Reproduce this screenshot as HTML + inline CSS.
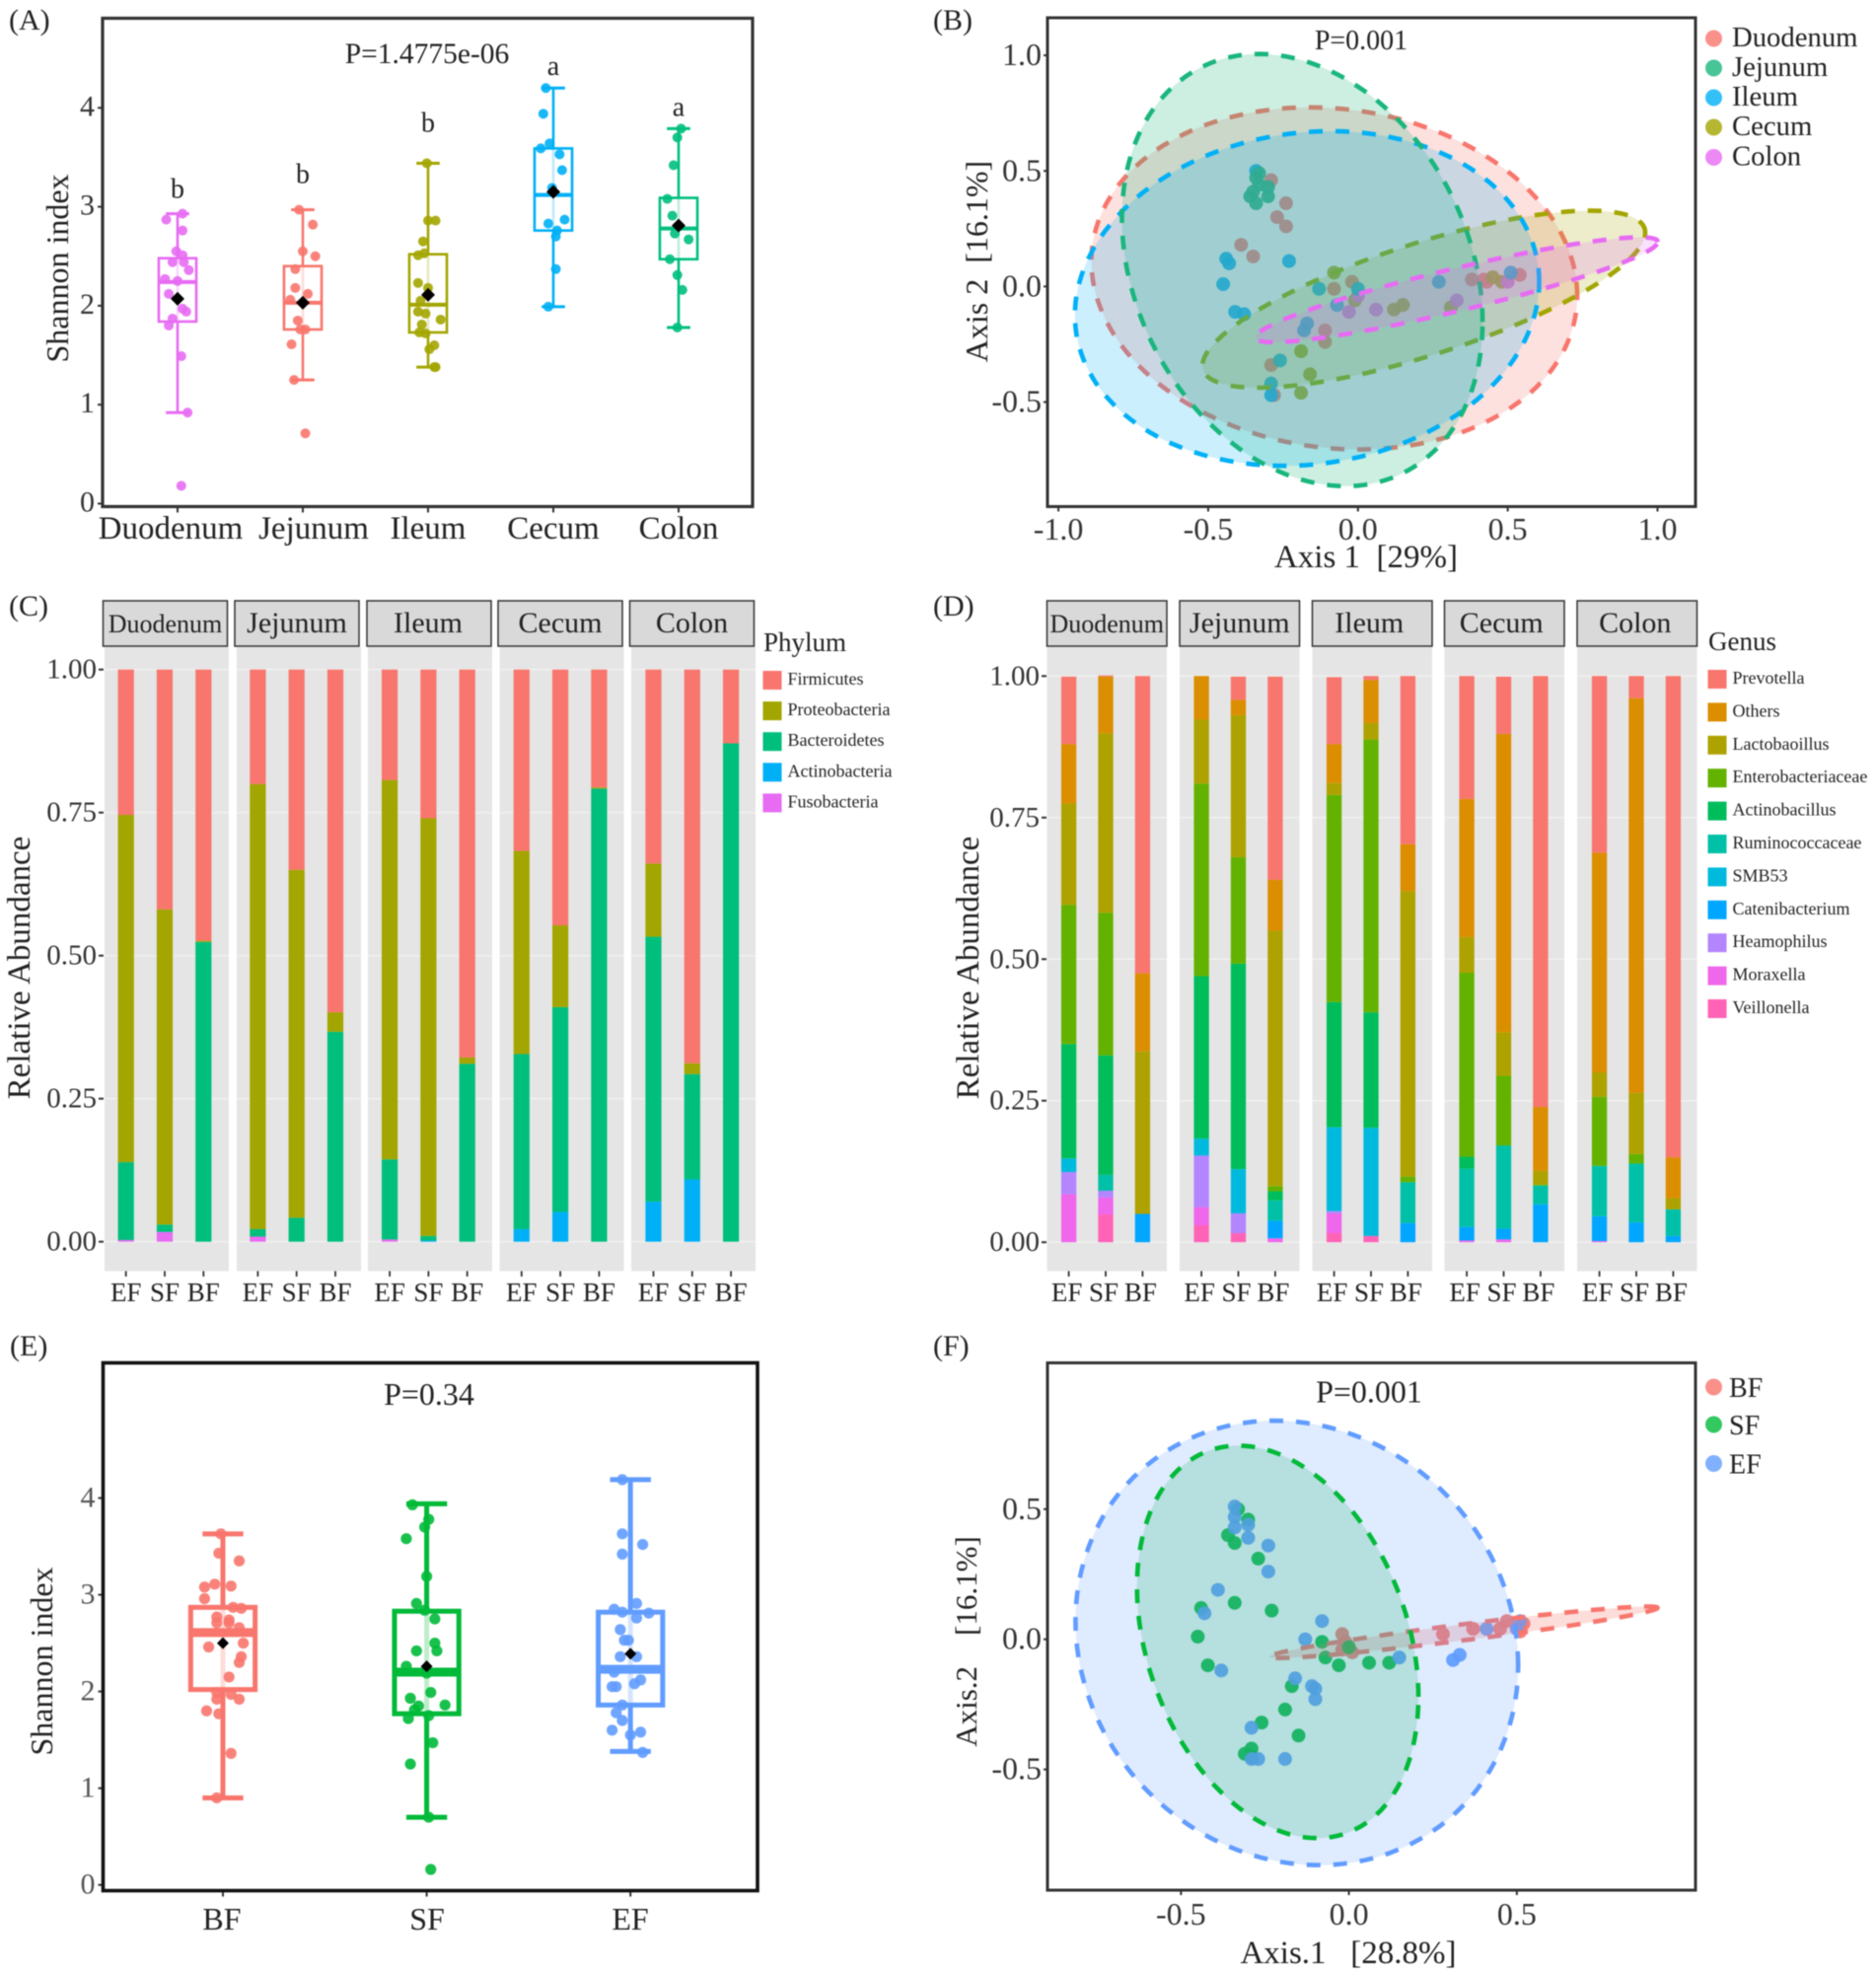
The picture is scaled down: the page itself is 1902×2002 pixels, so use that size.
<!DOCTYPE html>
<html lang="en">
<head>
<meta charset="utf-8">
<title>Gut microbiota diversity and composition figure</title>
<style>
html,body{margin:0;padding:0;background:#fff;}
svg{display:block;filter:blur(0.5px);}
text{font-family:"Liberation Serif",serif;fill:#222;}
</style>
</head>
<body>
<svg id="figure" xmlns="http://www.w3.org/2000/svg" width="1902" height="2002" viewBox="0 0 1902 2002">
<rect width="1902" height="2002" fill="#fff"/>
<text x="9" y="30" font-size="30">(A)</text>
<text x="946" y="30" font-size="30">(B)</text>
<text x="9" y="624" font-size="30">(C)</text>
<text x="946" y="624" font-size="30">(D)</text>
<text x="10" y="1374" font-size="30">(E)</text>
<text x="946" y="1374" font-size="30">(F)</text>

<g id="panelA"></g>
<rect x="104" y="18.5" width="659" height="495" fill="none" stroke="#333" stroke-width="3.2"/>
<text x="433" y="64" font-size="29.5" text-anchor="middle">P=1.4775e-06</text>
<text transform="translate(69 272) rotate(-90)" font-size="32" text-anchor="middle">Shannon index</text>

<g id="panelB"></g>
<rect x="1062" y="18" width="657" height="495.5" fill="none" stroke="#333" stroke-width="3"/>
<text x="1380" y="50" font-size="28" text-anchor="middle">P=0.001</text>
<text x="1385" y="575" font-size="33" text-anchor="middle" xml:space="preserve">Axis 1  [29%]</text>
<text transform="translate(1001 265) rotate(-90)" font-size="32" text-anchor="middle" xml:space="preserve">Axis 2  [16.1%]</text>

<g id="panelC"></g>
<text transform="translate(30 981) rotate(-90)" font-size="33" text-anchor="middle">Relative Abundance</text>
<text x="774" y="660" font-size="27">Phylum</text>

<g id="panelD"></g>
<text transform="translate(992 981) rotate(-90)" font-size="33" text-anchor="middle">Relative Abundance</text>
<text x="1732" y="659" font-size="27">Genus</text>

<g id="panelE"></g>
<rect x="104.5" y="1381.5" width="663.5" height="535" fill="none" stroke="#111" stroke-width="3.6"/>
<text x="435" y="1424" font-size="32" text-anchor="middle">P=0.34</text>
<text transform="translate(53 1684) rotate(-90)" font-size="32" text-anchor="middle">Shannon index</text>

<g id="panelF"></g>
<rect x="1062" y="1381.5" width="657" height="534.5" fill="none" stroke="#333" stroke-width="3"/>
<text x="1388" y="1421.5" font-size="32" text-anchor="middle">P=0.001</text>
<text x="1367" y="1990" font-size="33" text-anchor="middle" xml:space="preserve">Axis.1   [28.8%]</text>
<text transform="translate(990 1664) rotate(-90)" font-size="31" text-anchor="middle" xml:space="preserve">Axis.2    [16.1%]</text>
</svg>

<script>
/* ---------- Panel A data ---------- */
const siteCategories = ['Duodenum','Jejunum','Ileum','Cecum','Colon'];
const siteColors = ['#E76BF3','#F8766D','#A3A500','#00B0F6','#00BF7D'];
const siteQ1 = [1.84,1.76,1.73,2.76,2.47];
const siteMedian = [2.24,2.03,2.01,3.12,2.78];
const siteQ3 = [2.48,2.40,2.52,3.59,3.09];
const siteLow = [0.92,1.25,1.38,1.99,1.78];
const siteHigh = [2.93,2.97,3.44,4.20,3.79];
const siteMean = [2.07,2.03,2.11,3.15,2.81];
const siteLetters = ['b','b','b','a','a'];
const siteLetterValues = [3.09,3.24,3.76,4.33,3.92];
const shannonTicks = [0,1,2,3,4];
const sitePointValues = [
 [2.93,2.87,2.76,2.55,2.51,2.44,2.44,2.36,2.27,2.25,2.12,1.94,1.97,1.87,1.80,1.49,0.92,0.18],
 [2.97,2.82,2.55,2.50,2.37,2.18,2.12,2.06,2.03,1.85,1.76,1.76,1.61,1.25,0.71],
 [3.44,2.86,2.86,2.65,2.53,2.51,2.23,2.18,2.05,1.94,1.92,1.86,1.81,1.73,1.72,1.60,1.56,1.38,1.38],
 [4.20,3.94,3.64,3.59,3.53,3.37,3.19,2.83,2.87,2.76,2.70,2.37,1.99],
 [3.79,3.70,3.42,3.08,2.91,2.73,2.67,2.47,2.31,2.16,1.78]
];
const sitePointJitter = [
 [.04,-.09,.04,-.01,.04,-.04,.05,.09,-.10,0,-.07,.07,.04,-.04,-.07,.03,.08,.03],
 [-.03,.08,0,.10,-.06,-.06,.04,-.10,0,-.04,-.02,.02,-.09,-.07,.02],
 [-.01,0,.06,-.04,-.03,-.08,-.08,0,-.06,-.08,-.02,.10,-.05,-.07,-.02,.05,.01,.06,.05],
 [-.06,-.08,-.03,-.10,.05,.07,-.01,-.04,.09,.03,.02,.02,-.04],
 [.02,-.01,-.04,-.09,-.05,-.03,.08,-.07,-.01,.03,-.01]
];

/* ---------- Panel E data ---------- */
const feedCategories = ['BF','SF','EF'];
const feedColors = ['#F8766D','#00BA38','#619CFF'];
const feedQ1 = [2.02,1.77,1.86];
const feedMedian = [2.61,2.20,2.23];
const feedQ3 = [2.87,2.83,2.82];
const feedLow = [0.90,0.70,1.38];
const feedHigh = [3.63,3.94,4.19];
const feedMean = [2.50,2.26,2.39];
const feedPointValues = [
 [3.63,3.43,3.35,3.08,3.11,3.09,2.96,2.87,2.86,2.77,2.74,2.71,2.71,2.66,2.50,2.46,2.36,2.30,2.15,1.99,1.97,1.92,1.92,1.80,1.77,1.36,0.90],
 [3.93,3.78,3.70,3.58,3.19,2.91,2.84,2.75,2.50,2.42,2.42,2.26,2.19,1.99,1.93,1.86,1.85,1.81,1.72,1.75,1.47,1.25,0.70,0.16],
 [4.19,3.63,3.52,3.42,2.91,2.85,2.82,2.81,2.76,2.64,2.53,2.53,2.36,2.36,2.20,2.12,2.08,2.05,2.05,1.86,1.78,1.70,1.60,1.55,1.58,1.37]
];
const feedPointJitter = [
 [-.01,-.02,.08,-.09,-.04,.04,-.09,.05,.09,-.03,.03,-.03,.03,.08,.10,-.07,.09,.08,.03,-.03,.04,-.03,.08,-.08,-.02,.04,-.03],
 [-.07,.01,-.01,-.10,0,-.05,-.01,.04,.04,-.05,.05,-.10,0,.02,-.08,.09,-.04,-.06,-.09,.01,.03,-.08,.01,.02],
 [-.04,-.04,.06,-.04,.03,-.08,-.04,.09,.03,-.05,-.03,-.01,-.05,.03,-.08,.05,.02,-.09,-.07,-.04,-.07,-.04,-.09,0,.05,.06]
];

/* ---------- Panel C data (order per site: EF, SF, BF) ---------- */
const facetSites = ['Duodenum','Jejunum','Ileum','Cecum','Colon'];
const feedLabels = ['EF','SF','BF'];
const abundanceTicks = [0,0.25,0.5,0.75,1];
const phylumLegendLabels = ['Firmicutes','Proteobacteria','Bacteroidetes','Actinobacteria','Fusobacteria'];
const phylumColors = ['#F8766D','#A3A500','#00BF7D','#00B0F6','#E76BF3'];
const firmicutes = [.254,.419,.474,.20,.35,.599,.193,.26,.678,.317,.447,.206,.339,.688,.129];
const proteobacteria = [.607,.551,.002,.778,.608,.034,.663,.73,.011,.355,.143,.002,.128,.019,0];
const bacteroidetes = [.136,.013,.524,.013,.042,.367,.14,.008,.311,.306,.358,.792,.463,.184,.871];
const actinobacteria = [0,0,0,0,0,0,0,.002,0,.022,.052,0,.07,.109,0];
const fusobacteria = [.003,.017,0,.009,0,0,.004,0,0,0,0,0,0,0,0];

/* ---------- Panel D data ---------- */
const genusLegendLabels = ['Prevotella','Others','Lactobaoillus','Enterobacteriaceae','Actinobacillus','Ruminococcaceae','SMB53','Catenibacterium','Heamophilus','Moraxella','Veillonella'];
const genusColors = ['#F8766D','#DB8E00','#AEA200','#64B200','#00BD5C','#00C1A7','#00BADE','#00A6FF','#B385FF','#EF67EB','#FF63B6'];
const prevotella = [.119,.002,.525,0,.041,.359,.118,.007,.297,.217,.101,.761,.312,.039,.85];
const othersGenus = [.105,.1,.138,.077,.027,.09,.069,.076,.083,.244,.527,.113,.388,.697,.072];
const lactobacillus = [.179,.317,.287,.113,.251,.451,.021,.029,.504,.063,.077,.024,.043,.108,.02];
const enterobacteriaceae = [.246,.252,0,.34,.188,.009,.366,.482,.01,.325,.123,.002,.122,.017,0];
const actinobacillus = [.202,.211,0,.287,.363,.016,.221,.204,0,.021,0,0,0,0,0];
const ruminococcaceae = [0,.028,0,0,0,.036,0,0,.072,.103,.147,.033,.089,.104,.047];
const smb53 = [.024,0,0,.03,.078,0,.148,.191,0,0,0,0,0,0,0];
const catenibacterium = [0,0,.05,0,0,.031,0,0,.034,.024,.019,.067,.044,.035,.011];
const heamophilus = [.039,.012,0,.091,.035,0,.004,0,0,0,0,0,0,0,0];
const moraxella = [.085,.03,0,.032,0,.007,.035,0,0,.003,.005,0,.002,0,0];
const veillonella = [0,.049,0,.03,.016,0,.016,.011,0,0,0,0,0,0,0];

/* ---------- Panel B data (ellipses: Duodenum, Jejunum, Ileum, Cecum, Colon) ---------- */
const pcoaSites = ['Duodenum','Jejunum','Ileum','Cecum','Colon'];
const pcoaSiteColors = ['#F8766D','#19B67D','#00B0F6','#A3A500','#E76BF3'];
const pcoaBTicksX = [-1,-0.5,0,0.5,1];
const pcoaBTicksY = [-0.5,0,0.5,1];
const siteEllipseCenterX = [-.079,-.186,-.17,.22,.329];
const siteEllipseCenterY = [.035,.071,-.052,-.055,-.014];
const siteEllipseHalfWidth = [.811,.602,.775,.739,.672];
const siteEllipseHalfHeight = [.74,.935,.724,.383,.227];
const siteEllipseCorrelation = [-.10,-.24,.10,.75,.91];
const duodenumPointsX = [-.29,-.24,-.27,-.24,-.39,-.35,-.02,-.08,-.11,-.11,-.29,-.28,.38,.42,.43,.54];
const duodenumPointsY = [.46,.36,.30,.26,.18,.13,.02,-.01,-.19,-.24,-.34,-.47,.03,.03,.02,.05];
const jejunumPointsX = [-.34,-.33,-.30,-.35,-.36,-.30,-.34,-.33];
const jejunumPointsY = [.47,.44,.43,.41,.39,.39,.36,.49];
const ileumPointsX = [-.34,-.44,-.43,-.23,-.45,-.41,-.38,-.13,0,-.07,.27,.51,-.18,-.17,-.26,-.29,-.29];
const ileumPointsY = [.50,.12,.10,.11,.01,-.11,-.12,-.01,-.01,-.08,.02,.06,-.19,-.16,-.32,-.42,-.47];
const cecumPointsX = [-.08,-.01,.12,.15,.31,.45,.48,-.19,-.16,-.19];
const cecumPointsY = [.06,-.06,-.10,-.08,-.09,.04,.02,-.28,-.38,-.46];
const colonPointsX = [-.03,.06,.33,0,.50];
const colonPointsY = [-.11,-.10,-.06,-.04,.02];

/* ---------- Panel F data (ellipses: BF, SF, EF) ---------- */
const pcoaFeeds = ['BF','SF','EF'];
const pcoaFeedColors = ['#F8766D','#00BA38','#619CFF'];
const pcoaFTicksX = [-0.5,0,0.5];
const pcoaFTicksY = [-0.5,0,0.5];
const feedEllipseCenterX = [.341,-.212,-.155];
const feedEllipseCenterY = [.027,-.010,-.014];
const feedEllipseHalfWidth = [.578,.419,.659];
const feedEllipseHalfHeight = [.099,.754,.854];
const feedEllipseCorrelation = [.95,-.28,-.10];
const sfPointsX = [-.33,-.30,-.36,-.34,-.27,-.44,-.34,-.23,-.45,-.08,0,-.07,-.42,-.03,.06,.12,-.17,-.19,-.26,-.15,-.29,-.31,-.29];
const sfPointsY = [.50,.46,.40,.37,.31,.12,.14,.11,.01,-.01,-.03,-.07,-.10,-.10,-.09,-.09,-.18,-.27,-.32,-.37,-.42,-.44,-.45];
const efPointsX = [-.34,-.34,-.30,-.34,-.30,-.24,-.24,-.39,-.43,-.08,-.13,-.38,.15,-.16,-.11,-.10,-.10,-.29,-.19,-.27,-.29,.31,.33,.41,.50,.51];
const efPointsY = [.51,.47,.44,.43,.39,.36,.26,.19,.10,.07,0,-.12,-.07,-.15,-.18,-.19,-.23,-.34,-.46,-.46,-.46,-.08,-.06,.04,.04,.07];
const bfPointsX = [-.02,-.01,.01,-.02,.28,.37,.45,.47,.52,.51];
const bfPointsY = [.02,-.01,-.05,-.04,.02,.04,.04,.07,.06,.03];

/* ---------- helpers ---------- */
const SVGNS = 'http://www.w3.org/2000/svg';
function mk(parent, tag, attrs, text) {
  const node = document.createElementNS(SVGNS, tag);
  for (const k in attrs) node.setAttribute(k, attrs[k]);
  if (text !== undefined) node.textContent = text;
  parent.appendChild(node);
  return node;
}
function ellipsePath(cx, cy, a, b, r, sx, sy) {
  const q = Math.sqrt(1 - r * r);
  let d = '';
  for (let k = 0; k < 160; k++) {
    const t = k / 160 * 2 * Math.PI;
    const px = sx(cx + a * Math.cos(t));
    const py = sy(cy + b * (r * Math.cos(t) + q * Math.sin(t)));
    d += (k ? 'L' : 'M') + px.toFixed(1) + ' ' + py.toFixed(1);
  }
  return d + 'Z';
}

/* ---------- box plots ---------- */
function drawBoxes(host, o) {
  o.cats.forEach((cat, i) => {
    const g = mk(host, 'g', {});
    
    
    const col = o.colors[i], cx = o.x(i);
    const bw = o.x(i + o.boxHalf) - cx, cw = o.x(i + o.capHalf) - cx;
    const low = mk(g, 'line', {x1: cx, x2: cx, y1: o.y(o.low[i]), y2: o.y(o.q1[i]), stroke: col, 'stroke-width': o.sw});
    
    
    const high = mk(g, 'line', {x1: cx, x2: cx, y1: o.y(o.q3[i]), y2: o.y(o.high[i]), stroke: col, 'stroke-width': o.sw});
    
    
    const pale = mk(g, 'line', {x1: cx, x2: cx, y1: o.y(o.q1[i]), y2: o.y(o.q3[i]), stroke: col, 'stroke-width': o.sw, opacity: .25});
    
    
    [o.low[i], o.high[i]].forEach(v => {
      const cap = mk(g, 'line', {x1: cx - cw, x2: cx + cw, y1: o.y(v), y2: o.y(v), stroke: col, 'stroke-width': o.capW});
      
      
    });
    const box = mk(g, 'rect', {x: cx - bw, width: 2 * bw, y: o.y(o.q3[i]), height: o.y(o.q1[i]) - o.y(o.q3[i]), fill: 'none', stroke: col, 'stroke-width': o.sw});
    
    
    const med = mk(g, 'line', {x1: cx - bw, x2: cx + bw, y1: o.y(o.median[i]), y2: o.y(o.median[i]), stroke: col, 'stroke-width': o.medW});
    
    
    o.values[i].forEach((v, k) => {
      const c = mk(g, 'circle', {cx: o.x(i + o.jitter[i][k]), cy: o.y(v), r: o.r, fill: col, 'fill-opacity': .9});
      
      
    });
    const mx = cx, my = o.y(o.mean[i]), s = o.d;
    const dia = mk(g, 'polygon', {points: [mx - s, my, mx, my - s, mx + s, my, mx, my + s].join(' '), fill: '#000'});
    
    
    const tk = mk(host, 'line', {x1: cx, x2: cx, y1: o.axisY, y2: o.axisY + 6, stroke: '#333', 'stroke-width': 2});
    
    
    const lb = mk(host, 'text', {x: o.labelX[i], y: o.labelY, 'font-size': o.labelSize, 'text-anchor': 'middle'}, cat);
    
    
  });
  shannonTicks.forEach(t => {
    const tk = mk(host, 'line', {x1: o.axisX - 5, x2: o.axisX, y1: o.y(t), y2: o.y(t), stroke: '#333', 'stroke-width': 2});
    
    
    const lb = mk(host, 'text', {x: o.axisX - 8, y: o.y(t) + o.tickDy, 'font-size': 30, 'text-anchor': 'end', style: 'fill:' + o.tickColor}, String(t));
    
    
  });
}

const xA = c => 180 + 127 * c;
const yA = v => 510.5 - 100.3 * v;
const panelA = document.getElementById('panelA');
drawBoxes(panelA, {cats: siteCategories, colors: siteColors, q1: siteQ1, median: siteMedian, q3: siteQ3, low: siteLow, high: siteHigh, mean: siteMean,
  values: sitePointValues, jitter: sitePointJitter, x: xA, y: yA, boxHalf: .15, capHalf: .093, sw: 2.6, capW: 3, medW: 4, r: 5, d: 7,
  axisY: 513.5, axisX: 104, labelX: [173, 318, 434, 561, 688], labelY: 546, labelSize: 33, tickColor: '#333', tickDy: 8});
siteLetters.forEach((s, i) => {
  const t = mk(panelA, 'text', {x: xA(i), y: yA(siteLetterValues[i]), 'font-size': 28, 'text-anchor': 'middle'}, s);
  
  
});

const xE = c => 226 + 206.6 * c;
const yE = v => 1910.7 - 98.04 * v;
drawBoxes(document.getElementById('panelE'), {cats: feedCategories, colors: feedColors, q1: feedQ1, median: feedMedian, q3: feedQ3, low: feedLow, high: feedHigh, mean: feedMean,
  values: feedPointValues, jitter: feedPointJitter, x: xE, y: yE, boxHalf: .158, capHalf: .10, sw: 5, capW: 5, medW: 9, r: 5.6, d: 6,
  axisY: 1916.5, axisX: 104.5, labelX: [225, 433, 639], labelY: 1956, labelSize: 32, tickColor: '#555', tickDy: 9});

/* ---------- stacked bars ---------- */
function drawStacks(host, o) {
  facetSites.forEach((site, f) => {
    const g = mk(host, 'g', {});
    
    
    const px = o.panelX[f];
    const bg = mk(g, 'rect', {x: px, y: 656, width: o.panelW, height: 632.5, fill: '#E5E5E5'});
    
    
    abundanceTicks.forEach(t => {
      const gl = mk(g, 'line', {x1: px, x2: px + o.panelW, y1: o.y(t), y2: o.y(t), stroke: '#fff', 'stroke-width': 1.2, opacity: .55});
      
      
    });
    const strip = mk(g, 'rect', {x: o.stripX[f], y: 609, width: o.stripW, height: 46, fill: '#D9D9D9', stroke: '#333', 'stroke-width': 1.5});
    
    
    const st = mk(g, 'text', {x: o.stripX[f] + o.stripW / 2 + o.stripDx[f], y: 641, 'font-size': site === 'Duodenum' ? 26 : 30, 'text-anchor': 'middle'}, site);
    
    
    feedLabels.forEach((lab, b) => {
      const cx = o.barX(f, b);
      let cum = 0;
      for (let s = o.series.length - 1; s >= 0; s--) {
        const val = o.series[s][f * 3 + b];
        if (val <= 0) continue;
        const top = cum + val;
        const r = mk(g, 'rect', {x: cx - o.barW / 2, width: o.barW, y: o.y(top), height: o.y(cum) - o.y(top), fill: o.colors[s]});
        
        
        cum = top;
      }
      const tk = mk(g, 'line', {x1: cx, x2: cx, y1: 1288.5, y2: 1294, stroke: '#333', 'stroke-width': 1.8});
      
      
      const tl = mk(g, 'text', {x: cx + o.labelDx, y: 1319, 'font-size': 27, 'text-anchor': 'middle'}, lab);
      
      
    });
  });
  abundanceTicks.forEach(t => {
    const tk = mk(host, 'line', {x1: o.axisX - 5, x2: o.axisX, y1: o.y(t), y2: o.y(t), stroke: '#333', 'stroke-width': 2});
    
    
    const lb = mk(host, 'text', {x: o.axisX - 7, y: o.y(t) + 9, 'font-size': 29, 'text-anchor': 'end', style: 'fill:#333'}, t.toFixed(2));
    
    
  });
  o.legend.forEach((label, i) => {
    const yy = o.legendY + i * o.legendStep;
    const sw = mk(host, 'rect', {x: o.legendX, y: yy, width: 19, height: 19, fill: o.colors[i]});
    
    
    const tx = mk(host, 'text', {x: o.legendX + 25, y: yy + 14, 'font-size': 18}, label);
    
    
  });
}

drawStacks(document.getElementById('panelC'), {
  series: [firmicutes, proteobacteria, bacteroidetes, actinobacteria, fusobacteria],
  colors: phylumColors, legend: phylumLegendLabels,
  y: v => 1258.7 - 580 * v,
  barX: (f, b) => 127.7 + 133.7 * f + 39.3 * b, barW: 16.2,
  panelX: [106, 240, 373, 506.6, 640], panelW: 126,
  stripX: [104.5, 238, 372, 505, 638.5], stripW: 126, stripDx: [0, 0, -1, 0, 0], labelDx: 0,
  axisX: 105, legendX: 773.5, legendY: 680, legendStep: 31.1
});
drawStacks(document.getElementById('panelD'), {
  series: [prevotella, othersGenus, lactobacillus, enterobacteriaceae, actinobacillus, ruminococcaceae, smb53, catenibacterium, heamophilus, moraxella, veillonella],
  colors: genusColors, legend: genusLegendLabels,
  y: v => 1259.2 - 573.9 * v,
  barX: (f, b) => 1083.6 + 134.5 * f + 37.4 * b, barW: 15.3,
  panelX: [1061.5, 1196, 1330.5, 1464.5, 1599], panelW: 121.5,
  stripX: [1061.5, 1196, 1330.5, 1464.5, 1599], stripW: 121.5, stripDx: [0, 0, -3, -3, -2], labelDx: -2,
  axisX: 1061, legendX: 1731.5, legendY: 679, legendStep: 33.4
});

/* ---------- ordination panels ---------- */
function drawEllipse(host, d, col, fillOp, part, name) {
  if (part !== 'stroke') {
    const f = mk(host, 'path', {d: d, fill: col, 'fill-opacity': fillOp, stroke: 'none'});
    
    
  }
  if (part !== 'fill') {
    const s = mk(host, 'path', {d: d, fill: 'none', stroke: col, 'stroke-width': 4.6, 'stroke-dasharray': '14 13'});
    
    
  }
}
function drawPoints(host, xs, ys, sx, sy, col, name, r) {
  xs.forEach((x, i) => {
    const c = mk(host, 'circle', {cx: sx(x), cy: sy(ys[i]), r: r, fill: col, 'fill-opacity': .92});
    
    
  });
}
function drawAxes(host, tx, ty, sx, sy, axisX, axisY, labelYPos, size) {
  tx.forEach(t => {
    const k = mk(host, 'line', {x1: sx(t), x2: sx(t), y1: axisY, y2: axisY + 5, stroke: '#333', 'stroke-width': 2});
    
    
    const l = mk(host, 'text', {x: sx(t), y: labelYPos, 'font-size': size, 'text-anchor': 'middle', style: 'fill:#333'}, t.toFixed(1));
    
    
  });
  ty.forEach(t => {
    const k = mk(host, 'line', {x1: axisX - 4, x2: axisX, y1: sy(t), y2: sy(t), stroke: '#333', 'stroke-width': 2});
    
    
    const l = mk(host, 'text', {x: axisX - 6, y: sy(t) + 10, 'font-size': size, 'text-anchor': 'end', style: 'fill:#333'}, t.toFixed(1));
    
    
  });
}
function drawDotLegend(host, labels, colors, ys, textX, size, dy) {
  labels.forEach((label, i) => {
    const c = mk(host, 'circle', {cx: 1737.5, cy: ys[i], r: 8.5, fill: colors[i], 'fill-opacity': .8});
    
    
    const t = mk(host, 'text', {x: textX, y: ys[i] + dy, 'font-size': size}, label);
    
    
  });
}

const xB = v => 1376.8 + 303.7 * v;
const yB = v => 290.4 - 234.3 * v;
const panelB = document.getElementById('panelB');
const [cD, cJ, cI, cC, cO] = pcoaSiteColors;
const siteEllipsePaths = siteEllipseCenterX.map((cx, i) => ellipsePath(cx, siteEllipseCenterY[i], siteEllipseHalfWidth[i], siteEllipseHalfHeight[i], siteEllipseCorrelation[i], xB, yB));
drawPoints(panelB, duodenumPointsX, duodenumPointsY, xB, yB, cD, 'duodenum', 7);
drawPoints(panelB, cecumPointsX, cecumPointsY, xB, yB, cC, 'cecum', 7);
drawPoints(panelB, colonPointsX, colonPointsY, xB, yB, cO, 'colon', 7);
drawPoints(panelB, ileumPointsX, ileumPointsY, xB, yB, cI, 'ileum', 7);
drawPoints(panelB, jejunumPointsX, jejunumPointsY, xB, yB, cJ, 'jejunum', 7);
drawEllipse(panelB, siteEllipsePaths[0], cD, .22, 'both', 'duodenum');
drawEllipse(panelB, siteEllipsePaths[3], cC, .2, 'both', 'cecum');
drawEllipse(panelB, siteEllipsePaths[1], cJ, .22, 'fill', 'jejunum');
drawEllipse(panelB, siteEllipsePaths[2], cI, .2, 'both', 'ileum');
drawEllipse(panelB, siteEllipsePaths[1], cJ, .22, 'stroke', 'jejunum');
drawEllipse(panelB, siteEllipsePaths[4], cO, .2, 'both', 'colon');
drawAxes(panelB, pcoaBTicksX, pcoaBTicksY, xB, yB, 1062, 513.5, 547, 32);
drawDotLegend(panelB, pcoaSites, pcoaSiteColors, [39, 69, 99, 129, 159.5], 1756, 28.7, 8);

const xF = v => 1367.6 + 340.5 * v;
const yF = v => 1661.7 - 263.8 * v;
const panelF = document.getElementById('panelF');
const [cB, cS, cE] = pcoaFeedColors;
const feedEllipsePaths = feedEllipseCenterX.map((cx, i) => ellipsePath(cx, feedEllipseCenterY[i], feedEllipseHalfWidth[i], feedEllipseHalfHeight[i], feedEllipseCorrelation[i], xF, yF));
drawPoints(panelF, bfPointsX, bfPointsY, xF, yF, cB, 'bf', 7);
drawPoints(panelF, sfPointsX, sfPointsY, xF, yF, cS, 'sf', 7);
drawPoints(panelF, efPointsX, efPointsY, xF, yF, cE, 'ef', 7);
drawEllipse(panelF, feedEllipsePaths[0], cB, .25, 'both', 'bf');
drawEllipse(panelF, feedEllipsePaths[1], cS, .2, 'fill', 'sf');
drawEllipse(panelF, feedEllipsePaths[2], cE, .2, 'both', 'ef');
drawEllipse(panelF, feedEllipsePaths[1], cS, .2, 'stroke', 'sf');
drawAxes(panelF, pcoaFTicksX, pcoaFTicksY, xF, yF, 1062, 1916, 1951, 32);
drawDotLegend(panelF, pcoaFeeds, pcoaFeedColors, [1406, 1444, 1483.5], 1753, 28, 10);
</script>
</body>
</html>
